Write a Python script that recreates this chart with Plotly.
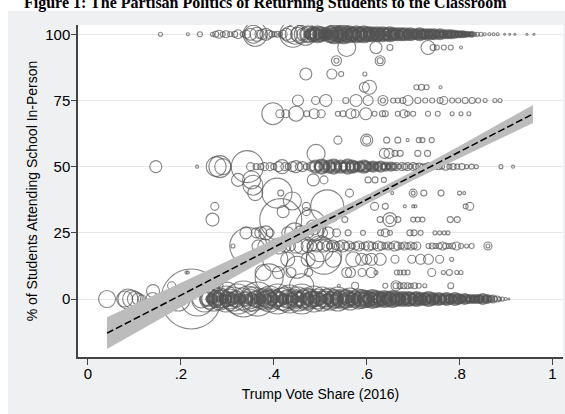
import plotly.graph_objects as go

# ---------------- data ----------------
x_tick_vals = [0, 0.2, 0.4, 0.6, 0.8, 1]
x_tick_text = ["0", ".2", ".4", ".6", ".8", "1"]
y_tick_vals = [0, 25, 50, 75, 100]

# districts at 0 % in-person
pct0_share = [0.041, 0.079, 0.086, 0.094, 0.101, 0.108, 0.116, 0.139, 0.152, 0.163, 0.172, 0.184, 0.194, 0.203,
              0.222, 0.236, 0.244, 0.251, 0.257, 0.262, 0.266, 0.271, 0.275, 0.279, 0.284, 0.288, 0.292, 0.297,
              0.301, 0.305, 0.309, 0.313, 0.318, 0.322, 0.326, 0.331, 0.335, 0.339, 0.344, 0.348, 0.352, 0.356,
              0.361, 0.365, 0.369, 0.374, 0.378, 0.382, 0.387, 0.391, 0.395, 0.400, 0.404, 0.408, 0.413, 0.417,
              0.421, 0.426, 0.430, 0.434, 0.439, 0.443, 0.447, 0.452, 0.456, 0.460, 0.465, 0.469, 0.473, 0.478,
              0.482, 0.486, 0.491, 0.495, 0.499, 0.504, 0.508, 0.512, 0.517, 0.521, 0.525, 0.530, 0.534, 0.538,
              0.543, 0.547, 0.551, 0.556, 0.560, 0.564, 0.569, 0.573, 0.577, 0.582, 0.586, 0.590, 0.595, 0.599,
              0.603, 0.608, 0.612, 0.616, 0.621, 0.625, 0.629, 0.634, 0.638, 0.642, 0.647, 0.651, 0.655, 0.660,
              0.664, 0.668, 0.673, 0.677, 0.681, 0.686, 0.690, 0.694, 0.699, 0.703, 0.707, 0.712, 0.716, 0.720,
              0.725, 0.729, 0.733, 0.738, 0.742, 0.746, 0.751, 0.755, 0.759, 0.764, 0.768, 0.772, 0.777, 0.781,
              0.785, 0.790, 0.794, 0.798, 0.803, 0.807, 0.811, 0.816, 0.820, 0.824, 0.829, 0.833, 0.837, 0.842,
              0.846, 0.850, 0.855, 0.859, 0.863, 0.868, 0.872, 0.876, 0.881, 0.886, 0.892, 0.899, 0.906]
pct0_size = [17, 16, 20, 18, 15, 12, 8, 13, 10, 12, 8, 14, 24, 12,
             60, 34, 18, 26, 14, 20, 10, 24, 16, 12, 22, 18, 8, 26,
             14, 20, 12, 24, 16, 30, 10, 22, 36, 14, 26, 20, 12, 24,
             16, 34, 10, 20, 14, 22, 18, 26, 12, 20, 16, 30, 14, 22,
             10, 24, 18, 28, 12, 20, 16, 24, 14, 30, 18, 22, 12, 20,
             16, 26, 14, 20, 12, 24, 16, 20, 10, 22, 14, 18, 12, 24,
             16, 20, 10, 18, 14, 22, 12, 16, 10, 20, 14, 18, 12, 16,
             10, 14, 18, 12, 16, 10, 14, 12, 16, 10, 14, 12, 16, 10,
             14, 12, 10, 14, 12, 10, 14, 12, 10, 12, 14, 10, 12, 8,
             12, 10, 14, 8, 12, 10, 8, 12, 10, 8, 10, 12, 8, 10,
             8, 12, 8, 10, 8, 6, 10, 8, 6, 8, 6, 8, 6, 8,
             6, 10, 6, 8, 5, 6, 8, 5, 6, 4, 4, 3, 2]
# the many small districts packed inside the 0 % band
pct0_small_share = [0.262, 0.270, 0.281, 0.290, 0.299, 0.307, 0.316, 0.324, 0.333, 0.342, 0.350, 0.359, 0.367,
                    0.376, 0.385, 0.393, 0.402, 0.410, 0.419, 0.428, 0.436, 0.445, 0.454, 0.462, 0.471, 0.480,
                    0.488, 0.497, 0.506, 0.514, 0.523, 0.532, 0.540, 0.549, 0.558, 0.566, 0.575, 0.584, 0.592,
                    0.601, 0.610, 0.618, 0.627, 0.636, 0.644, 0.653, 0.662, 0.670, 0.679, 0.688, 0.696, 0.705,
                    0.714, 0.722, 0.731, 0.740, 0.748, 0.757, 0.766, 0.774, 0.783, 0.792, 0.800, 0.809, 0.818,
                    0.826, 0.835, 0.844, 0.852]
pct0_small_size = [6, 8, 5, 7, 9, 6, 8, 5, 7, 9, 6, 8, 5,
                   7, 9, 6, 8, 5, 7, 9, 6, 8, 5, 7, 9, 6,
                   8, 5, 7, 9, 6, 8, 5, 7, 8, 6, 7, 5, 7,
                   8, 6, 7, 5, 6, 8, 5, 7, 6, 5, 7, 6, 5,
                   6, 5, 6, 5, 6, 4, 5, 6, 4, 5, 4, 5, 4,
                   4, 4, 3, 3]

pct5_share = [0.180, 0.280, 0.540, 0.575, 0.640, 0.663, 0.663, 0.672, 0.680, 0.688, 0.695, 0.703, 0.712, 0.725, 0.781]
pct5_size = [8, 10, 3, 7, 5, 10, 6, 6, 6, 6, 5, 6, 5, 4, 6]

pct10_share = [0.215, 0.377, 0.410, 0.437, 0.475, 0.557, 0.565, 0.590, 0.610, 0.620, 0.665, 0.672, 0.680, 0.688,
               0.740, 0.765, 0.778, 0.794, 0.803]
pct10_size = [3, 16, 12, 10, 8, 10, 10, 8, 10, 4, 5, 5, 5, 5, 8, 4, 6, 4, 4]

pct15_share = [0.403, 0.430, 0.474, 0.489, 0.528, 0.571, 0.589, 0.600, 0.610, 0.629, 0.661, 0.697, 0.716, 0.733,
               0.757, 0.783]
pct15_size = [25, 14, 14, 18, 16, 15, 12, 10, 12, 12, 8, 8, 10, 10, 8, 4]

pct20_share = [0.312, 0.345, 0.366, 0.381, 0.396, 0.410, 0.424, 0.436, 0.448, 0.460, 0.472, 0.482, 0.492, 0.500,
               0.507, 0.514, 0.520, 0.527, 0.534, 0.541, 0.548, 0.555, 0.562, 0.569, 0.576, 0.583, 0.590, 0.597,
               0.604, 0.611, 0.618, 0.625, 0.632, 0.639, 0.646, 0.653, 0.660, 0.667, 0.674, 0.681, 0.688, 0.695,
               0.702, 0.708, 0.733, 0.741, 0.748, 0.756, 0.763, 0.770, 0.777, 0.785, 0.793, 0.803, 0.815, 0.826,
               0.861, 0.861]
pct20_size = [4, 37, 12, 14, 10, 16, 12, 10, 14, 16, 12, 10, 12, 8,
              12, 10, 6, 12, 8, 10, 12, 8, 10, 6, 8, 10, 6, 8,
              10, 8, 6, 10, 8, 6, 8, 6, 10, 8, 6, 8, 6, 8,
              6, 8, 5, 6, 5, 6, 8, 6, 5, 6, 8, 5, 4, 5,
              8, 4]

pct25_share = [0.340, 0.362, 0.372, 0.383, 0.392, 0.430, 0.445, 0.458, 0.475, 0.490, 0.505, 0.517, 0.535, 0.560,
               0.592, 0.630, 0.640, 0.650, 0.693, 0.702, 0.716, 0.747, 0.757, 0.767, 0.775]
pct25_size = [12, 10, 12, 14, 8, 12, 20, 14, 10, 16, 10, 12, 8, 6, 5, 6, 8, 5, 6, 6, 5, 4, 4, 4, 4]

pct30_share = [0.268, 0.415, 0.553, 0.629, 0.650, 0.650, 0.667, 0.700, 0.710, 0.720, 0.780, 0.795]
pct30_size = [13, 42, 6, 6, 14, 8, 6, 5, 5, 5, 6, 6]

pct35_share = [0.273, 0.470, 0.617, 0.640, 0.682, 0.700, 0.705, 0.813, 0.822]
pct35_size = [8, 8, 8, 6, 3, 3, 3, 5, 8]

pct40_share = [0.360, 0.407, 0.415, 0.563, 0.655, 0.700, 0.700, 0.723, 0.760, 0.800, 0.810]
pct40_size = [15, 30, 6, 8, 3, 8, 4, 6, 6, 4, 3]

pct45_share = [0.323, 0.352, 0.485, 0.508, 0.603, 0.618, 0.637]
pct45_size = [13, 18, 12, 8, 6, 6, 5]

pct50_share = [0.146, 0.235, 0.276, 0.284, 0.290, 0.343, 0.350, 0.362, 0.372, 0.380, 0.392, 0.400, 0.410, 0.418,
               0.424, 0.431, 0.440, 0.448, 0.455, 0.462, 0.470, 0.480, 0.490, 0.497, 0.503, 0.509, 0.514, 0.519,
               0.524, 0.529, 0.534, 0.539, 0.544, 0.549, 0.554, 0.559, 0.564, 0.569, 0.574, 0.579, 0.584, 0.589,
               0.594, 0.599, 0.604, 0.609, 0.614, 0.619, 0.624, 0.630, 0.636, 0.641, 0.647, 0.652, 0.658, 0.664,
               0.670, 0.676, 0.682, 0.688, 0.694, 0.700, 0.706, 0.713, 0.720, 0.727, 0.734, 0.741, 0.748, 0.755,
               0.762, 0.770, 0.778, 0.786, 0.795, 0.805, 0.815, 0.826, 0.836, 0.889, 0.915]
pct50_size = [12, 3, 20, 22, 16, 32, 8, 6, 6, 8, 8, 6, 10, 14,
              8, 6, 10, 12, 8, 10, 6, 9, 12, 8, 14, 10, 6, 12,
              8, 14, 10, 6, 12, 8, 10, 14, 8, 12, 10, 6, 10, 8,
              12, 10, 6, 8, 10, 6, 8, 10, 6, 8, 5, 8, 6, 8,
              5, 8, 6, 8, 5, 8, 6, 7, 5, 6, 8, 6, 5, 6,
              5, 7, 5, 6, 5, 6, 4, 5, 4, 4, 3]

pct55_share = [0.491, 0.638, 0.648, 0.661, 0.672, 0.710, 0.731]
pct55_size = [18, 10, 10, 6, 6, 6, 6]

pct60_share = [0.538, 0.600, 0.600, 0.643, 0.667, 0.688, 0.712, 0.720, 0.740]
pct60_size = [8, 12, 8, 6, 6, 3, 5, 5, 5]

pct70_share = [0.398, 0.413, 0.426, 0.448, 0.471, 0.487, 0.502, 0.538, 0.549, 0.566, 0.575, 0.598, 0.617, 0.634,
               0.640, 0.667, 0.680, 0.687, 0.700, 0.732, 0.753, 0.784, 0.803, 0.820]
pct70_size = [22, 8, 8, 15, 6, 10, 8, 5, 6, 10, 8, 12, 5, 6, 6, 5, 8, 5, 5, 5, 5, 4, 4, 4]

pct75_share = [0.452, 0.490, 0.512, 0.555, 0.577, 0.603, 0.635, 0.635, 0.657, 0.667, 0.678, 0.689, 0.710, 0.726,
               0.741, 0.758, 0.766, 0.784, 0.797, 0.812, 0.827, 0.840, 0.855, 0.876, 0.887]
pct75_size = [11, 8, 12, 6, 12, 10, 10, 5, 5, 5, 6, 10, 6, 5, 5, 6, 8, 5, 5, 6, 6, 5, 4, 4, 4]

pct80_share = [0.595, 0.606, 0.707, 0.718, 0.729, 0.759]
pct80_size = [10, 14, 5, 6, 5, 3]

pct85_share = [0.469, 0.525, 0.545, 0.596]
pct85_size = [12, 10, 5, 4]

pct90_share = [0.535, 0.535, 0.629, 0.629]
pct90_size = [10, 5, 10, 6]

pct95_share = [0.557, 0.620, 0.650, 0.732, 0.743, 0.751, 0.766, 0.781, 0.803]
pct95_size = [18, 12, 6, 14, 6, 5, 5, 5, 3]

pct100_share = [0.156, 0.215, 0.241, 0.268, 0.275, 0.282, 0.290, 0.297, 0.306, 0.316, 0.323, 0.333, 0.341, 0.350,
                0.356, 0.360, 0.364, 0.368, 0.375, 0.383, 0.390, 0.396, 0.402, 0.408, 0.414, 0.420, 0.427, 0.434,
                0.441, 0.446, 0.451, 0.457, 0.462, 0.468, 0.474, 0.479, 0.485, 0.490, 0.494, 0.498, 0.502, 0.506,
                0.510, 0.514, 0.518, 0.522, 0.526, 0.530, 0.534, 0.538, 0.542, 0.546, 0.550, 0.554, 0.558, 0.562,
                0.566, 0.570, 0.574, 0.578, 0.582, 0.586, 0.590, 0.594, 0.598, 0.602, 0.606, 0.610, 0.614, 0.618,
                0.622, 0.626, 0.630, 0.634, 0.638, 0.642, 0.646, 0.650, 0.654, 0.658, 0.662, 0.666, 0.670, 0.674,
                0.678, 0.682, 0.686, 0.690, 0.694, 0.698, 0.702, 0.706, 0.710, 0.714, 0.718, 0.722, 0.726, 0.730,
                0.734, 0.738, 0.742, 0.746, 0.750, 0.754, 0.758, 0.762, 0.766, 0.770, 0.774, 0.778, 0.782, 0.786,
                0.790, 0.794, 0.798, 0.802, 0.806, 0.810, 0.815, 0.820, 0.826, 0.832, 0.838, 0.846, 0.854, 0.864,
                0.873, 0.882, 0.897, 0.908, 0.919, 0.945, 0.960]
pct100_size = [4, 3, 5, 4, 6, 8, 5, 7, 5, 6, 9, 5, 8, 12,
               18, 24, 14, 8, 10, 12, 8, 6, 5, 6, 4, 8, 12, 16,
               26, 20, 14, 18, 12, 22, 16, 10, 14, 12, 16, 10, 14, 8,
               12, 6, 10, 16, 12, 18, 14, 10, 16, 12, 18, 14, 10, 16,
               12, 14, 10, 16, 12, 14, 10, 16, 12, 14, 10, 14, 12, 10,
               14, 12, 10, 14, 12, 10, 12, 14, 10, 12, 10, 12, 8, 12,
               10, 12, 8, 10, 12, 8, 10, 8, 10, 12, 8, 10, 8, 10,
               8, 10, 8, 10, 6, 8, 10, 6, 8, 6, 8, 6, 8, 6,
               7, 5, 6, 5, 6, 5, 5, 4, 5, 4, 4, 4, 3, 3,
               3, 3, 2, 2, 2, 2, 2]
# the many small districts packed inside the 100 % band
pct100_small_share = [0.472, 0.481, 0.489, 0.497, 0.505, 0.513, 0.521, 0.529, 0.537, 0.545, 0.553, 0.561, 0.569,
                      0.577, 0.585, 0.593, 0.601, 0.609, 0.617, 0.625, 0.633, 0.641, 0.649, 0.657, 0.665, 0.673,
                      0.681, 0.689, 0.697, 0.705, 0.713, 0.721, 0.729, 0.737, 0.745, 0.753, 0.761, 0.769, 0.777,
                      0.785, 0.793, 0.801, 0.809, 0.817, 0.825]
pct100_small_size = [6, 8, 5, 7, 6, 8, 5, 7, 6, 8, 5, 7, 6,
                     8, 5, 7, 6, 7, 5, 6, 7, 5, 6, 7, 5, 6,
                     5, 6, 5, 6, 5, 6, 5, 5, 6, 4, 5, 4, 5,
                     4, 4, 4, 3, 3, 3]

# districts between the usual 5-point steps
other_share = [0.140, 0.355, 0.470, 0.420, 0.390, 0.450, 0.480, 0.500, 0.440, 0.515, 0.508, 0.485, 0.460, 0.300, 0.212]
other_pct = [3, 43, 33, 33, 8, 12, 28, 19, 37, 35, 16, 27, 5, 3, 10]
other_size = [13, 20, 8, 12, 28, 22, 30, 26, 18, 33, 35, 15, 24, 18, 3]

# weighted linear fit and its 95% band
fit_share = [0.041, 0.2, 0.3, 0.4, 0.5, 0.6, 0.7, 0.8, 0.958]
fit_pct = [-12.9, 1.5, 10.5, 19.5, 28.6, 37.6, 46.6, 55.6, 69.9]
ci_low = [-18.9, -3.1, 6.8, 16.6, 26.4, 35.9, 44.9, 53.4, 66.5]
ci_high = [-6.9, 6.1, 14.2, 22.4, 30.7, 39.3, 48.3, 57.8, 73.3]

# ---------------- assemble ----------------
groups = [
    (0, pct0_share, pct0_size), (0, pct0_small_share, pct0_small_size),
    (5, pct5_share, pct5_size), (10, pct10_share, pct10_size),
    (15, pct15_share, pct15_size), (20, pct20_share, pct20_size), (25, pct25_share, pct25_size),
    (30, pct30_share, pct30_size), (35, pct35_share, pct35_size), (40, pct40_share, pct40_size),
    (45, pct45_share, pct45_size), (50, pct50_share, pct50_size), (55, pct55_share, pct55_size),
    (60, pct60_share, pct60_size), (70, pct70_share, pct70_size), (75, pct75_share, pct75_size),
    (80, pct80_share, pct80_size), (85, pct85_share, pct85_size), (90, pct90_share, pct90_size),
    (95, pct95_share, pct95_size), (100, pct100_share, pct100_size), (100, pct100_small_share, pct100_small_size),
]
# where thousands of districts pile up, the overlapping rings read as a solid band
crowded = {0: (0.25, 0.87), 100: (0.47, 0.83), 50: (0.49, 0.66)}

sx, sy, ss = [], [], []   # sparse / large rings
dx, dy, ds = [], [], []   # crowded small rings
for lvl, sh, sz in groups:
    lo, hi = crowded.get(lvl, (2, 2))
    for v, s in zip(sh, sz):
        if lo <= v <= hi and s <= 18:
            dx.append(v); dy.append(lvl); ds.append(s)
        else:
            sx.append(v); sy.append(lvl); ss.append(s)
sx += other_share
sy += other_pct
ss += other_size

INK = "#535353"
fig = go.Figure()
fig.add_trace(go.Scatter(
    x=sx, y=sy, mode="markers", hoverinfo="skip",
    marker=dict(size=ss, sizemode="diameter", color="rgba(0,0,0,0)",
                line=dict(color=INK, width=1.1)),
))
fig.add_trace(go.Scatter(
    x=dx, y=dy, mode="markers", hoverinfo="skip",
    marker=dict(size=ds, sizemode="diameter", color="rgba(0,0,0,0)",
                line=dict(color=INK, width=2.2)),
))
fig.add_trace(go.Scatter(
    x=fit_share + fit_share[::-1], y=ci_high + ci_low[::-1],
    mode="lines", fill="toself", fillcolor="#bcbcbc", line=dict(width=0), hoverinfo="skip",
))
fig.add_trace(go.Scatter(
    x=fit_share, y=fit_pct, mode="lines", hoverinfo="skip",
    line=dict(color="black", width=1.5, dash="7px,3px"),
))

# plot area: x 78..563 px, y 25..357 px
L, R, T, B = 78, 2, 25, 57
PW, PH = 565 - L - R, 414 - T - B


def px_x(p):
    return (p - L) / PW


def px_y(p):
    return (414 - B - p) / PH


fig.update_layout(
    width=565, height=414,
    margin=dict(l=L, r=R, t=T, b=B, pad=0, autoexpand=False),
    paper_bgcolor="#eef0f2", plot_bgcolor="white",
    showlegend=False,
    font=dict(family="Liberation Sans, Arial, sans-serif", size=14, color="black"),
    shapes=[
        dict(type="rect", xref="paper", yref="paper", x0=px_x(-5), x1=px_x(8), y0=px_y(420), y1=px_y(-5),
             fillcolor="white", line=dict(width=0), layer="below"),
        dict(type="rect", xref="paper", yref="paper", x0=px_x(-5), x1=px_x(570), y0=px_y(11), y1=px_y(-5),
             fillcolor="white", line=dict(width=0), layer="below"),
    ],
    annotations=[
        dict(text="<b>Figure 1: The Partisan Politics of Returning Students to the Classroom</b>",
             xref="paper", yref="paper", x=px_x(265), y=px_y(3), xanchor="center", yanchor="middle",
             showarrow=False, font=dict(family="Liberation Serif, Times New Roman, serif", size=16, color="black")),
    ],
)
fig.update_xaxes(
    automargin=False,
    range=[-0.0215, 1.0226], tickvals=x_tick_vals, ticktext=x_tick_text,
    ticks="outside", ticklen=6, tickwidth=1, tickcolor="#444444",
    showline=True, linecolor="#444444", linewidth=1.5,
    showgrid=False, zeroline=False, ticklabelstandoff=-4,
    title=dict(text="Trump Vote Share (2016)", font=dict(size=14), standoff=8),
    tickfont=dict(size=15),
)
fig.update_yaxes(
    automargin=False,
    range=[-21.9, 103.5], tickvals=y_tick_vals,
    ticks="outside", ticklen=5, tickwidth=1, tickcolor="#444444",
    showline=True, linecolor="#444444", linewidth=1.5,
    showgrid=True, gridcolor="#e6e8eb", gridwidth=1, zeroline=False, ticklabelstandoff=-2,
    title=dict(text="% of Students Attending School In-Person", font=dict(size=14), standoff=4),
    tickfont=dict(size=15),
)

# the page is photographed from its top-left corner, so drop the browser's default body margin
fig.write_html("out.html", config={"displayModeBar": False},
               post_script="document.body.style.margin = '0px';")
